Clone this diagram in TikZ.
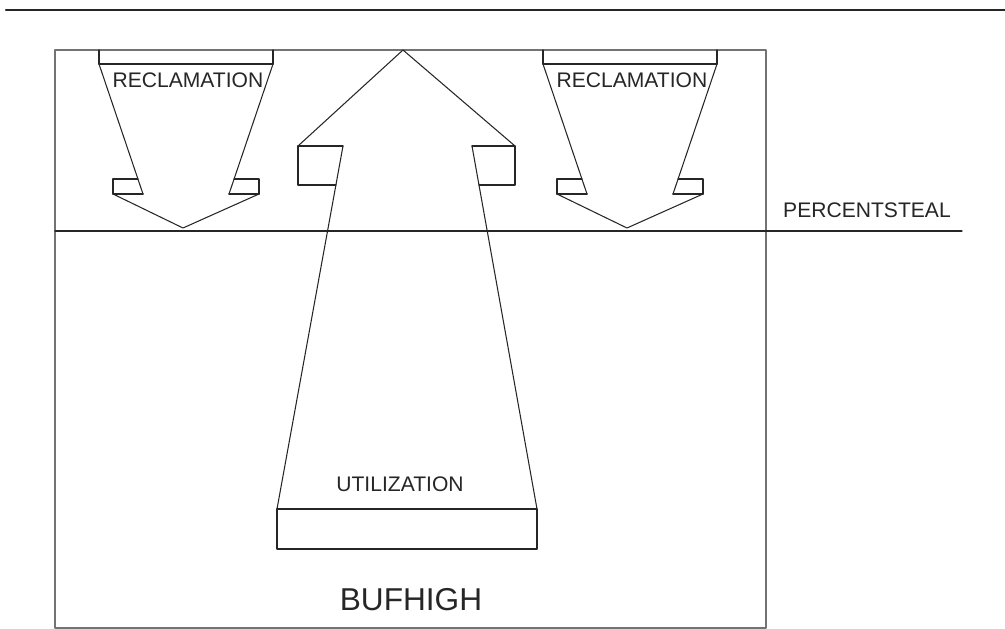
\documentclass[tikz,border=0pt]{standalone}
\usepackage{fontspec}
\setmainfont{Liberation Sans}
\usetikzlibrary{calc}
\begin{document}
\begin{tikzpicture}[x=0.02cm, y=-0.02cm, line cap=round, line join=round,
	thin line/.style={line width=0.6pt, draw=black!85},
	heavy line/.style={line width=1.1pt, draw=black!85},
	frame line/.style={line width=0.8pt, draw=black!55},
	label text/.style={font=\fontsize{12}{14}\selectfont, text=black!85, inner sep=0pt}]
	\useasboundingbox (0,0) rectangle (1005,629);
	
	% Top rule
	\draw[line width=1.2pt, black!85] (6,10) -- (1005,10);
	
	% Outer frame
	\draw[frame line] (55,50) rectangle (766,628);
	
	% Percentsteal level
	\coordinate (PL) at (55,231);
	\coordinate (PR) at (962,231);
	\draw[thin line] (PL) -- (PR);
	\node[label text] (percentsteal) at (867,210) {PERCENTSTEAL};
	
	% Reclamation arrows (left and right copies)
	\foreach \dx/\side in {0/left, 444/right} {
		\begin{scope}[shift={(\dx,0)}]
			% head block
			\draw[thin line] (99,50) -- (99,64);
			\draw[thin line] (273,50) -- (273,64);
			\draw[heavy line] (99,64) -- (273,64);
			% shaft
			\draw[thin line] (99,64) -- (143,194);
			\draw[thin line] (273,64) -- (229,194);
			% barbs
			\draw[thin line] (138,179) -- (113,179) -- (113,194);
			\draw[thin line] (234,179) -- (259,179) -- (259,194);
			\draw[heavy line] (113,194) -- (143,194);
			\draw[heavy line] (229,194) -- (259,194);
			% tip
			\coordinate (tip-\side) at (183,228);
			\draw[thin line] (113,194) -- (tip-\side) -- (259,194);
			\node[label text] (recl-\side) at (188,80) {RECLAMATION};
		\end{scope}
	}
	
	% Utilization arrow
	\coordinate (UT) at (403,50);
	\draw[thin line] (298,146) -- (UT) -- (515,146);
	% barbs
	\draw[thin line] (343,146) -- (298,146) -- (298,185) -- (336,185);
	\draw[thin line] (472,146) -- (515,146) -- (515,185) -- (479,185);
	% shaft
	\draw[thin line] (343,146) -- (277,509);
	\draw[thin line] (472,146) -- (537,509);
	% base block
	\draw[thin line] (277,509) rectangle (537,549);
	\node[label text] (util) at (400,484) {UTILIZATION};
	
	% Level label
	\node[label text, font=\fontsize{18}{21}\selectfont] (bufhigh) at (411,600) {BUFHIGH};
\end{tikzpicture}
\end{document}
